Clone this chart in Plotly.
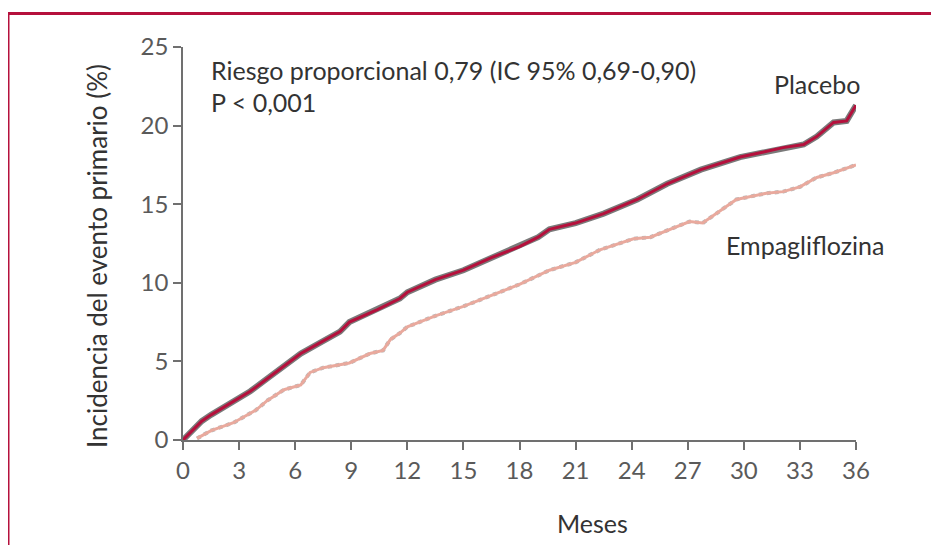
import plotly.graph_objects as go

# Data (cumulative incidence, %)
placebo_x = [0, 0.5, 1.0, 1.5, 2.2, 2.9, 3.6, 4.5, 5.6, 6.3, 7.2, 8.4, 8.9, 10.4, 11.6, 12.0, 13.5, 15.0,
             16.5, 18.0, 19.0, 19.6, 21.0, 22.5, 24.3, 25.9, 27.7, 29.8, 31.0, 32.1, 33.2, 33.9, 34.8, 35.5, 36.0]
placebo_y = [0, 0.6, 1.2, 1.6, 2.1, 2.6, 3.1, 3.9, 4.9, 5.5, 6.1, 6.9, 7.5, 8.3, 9.0, 9.4, 10.2, 10.8,
             11.6, 12.3, 12.9, 13.4, 13.8, 14.4, 15.3, 16.3, 17.2, 18.0, 18.3, 18.6, 18.8, 19.3, 20.2, 20.3, 21.3]

empa_x = [0.75, 1.5, 2.7, 3.9, 4.5, 5.4, 6.3, 6.8, 7.5, 8.9, 10.0, 10.7, 11.1, 11.6, 12.0, 13.5, 15.0,
          16.5, 18.0, 19.6, 21.0, 22.3, 24.1, 25.0, 27.1, 27.8, 29.6, 31.2, 32.1, 33.0, 33.9, 34.8, 35.8, 36.0]
empa_y = [0.1, 0.6, 1.1, 1.9, 2.5, 3.2, 3.5, 4.3, 4.6, 4.9, 5.5, 5.7, 6.4, 6.8, 7.2, 7.9, 8.5,
          9.2, 9.9, 10.8, 11.3, 12.1, 12.8, 12.9, 13.9, 13.8, 15.3, 15.7, 15.8, 16.1, 16.7, 17.0, 17.4, 17.5]

x_ticks = [0, 3, 6, 9, 12, 15, 18, 21, 24, 27, 30, 33, 36]
y_ticks = [0, 5, 10, 15, 20, 25]

RED = "#b5103c"
SALMON = "#e9a99d"
AXIS = "#707070"
TEXT = "#333333"
FONT = "Lato"

fig = go.Figure()
# gray shadows
fig.add_trace(go.Scatter(x=placebo_x, y=placebo_y, mode="lines",
                         line=dict(color="#7a7a7a", width=6), hoverinfo="skip", showlegend=False))
fig.add_trace(go.Scatter(x=empa_x, y=empa_y, mode="lines",
                         line=dict(color="#b8b8b8", width=4, dash="dot"), hoverinfo="skip", showlegend=False))
fig.add_trace(go.Scatter(x=empa_x, y=empa_y, mode="lines", name="Empagliflozina",
                         line=dict(color=SALMON, width=3), showlegend=False))
fig.add_trace(go.Scatter(x=placebo_x, y=placebo_y, mode="lines", name="Placebo",
                         line=dict(color=RED, width=3), showlegend=False))

axis_common = dict(showline=True, linecolor=AXIS, linewidth=1.5, ticks="outside", ticklen=8,
                   tickcolor=AXIS, tickwidth=1.5, showgrid=False, zeroline=False,
                   tickfont=dict(family=FONT, size=24, color="#5a5a5a"))

# the page body adds an 8px offset; margins compensate so the plot area sits at 183..856 x 47..440
fig.update_layout(
    width=939, height=545,
    margin=dict(l=175, r=91, t=39, b=113, autoexpand=False),
    paper_bgcolor="white", plot_bgcolor="white",
    xaxis=dict(range=[0, 36], tickvals=x_ticks, **axis_common),
    yaxis=dict(range=[0, 25], tickvals=y_ticks, **axis_common),
    showlegend=False,
)

anns = [
    dict(text="Riesgo proporcional 0,79 (IC 95% 0,69-0,90)", x=(209 - 183) / 673, y=(440 - 70) / 393,
         xanchor="left", yanchor="middle", font=dict(size=25)),
    dict(text="P < 0,001", x=(209 - 183) / 673, y=(440 - 102) / 393,
         xanchor="left", yanchor="middle", font=dict(size=25)),
    dict(text="Placebo", x=(817 - 183) / 673, y=(440 - 84) / 393,
         xanchor="center", yanchor="middle", font=dict(size=25)),
    dict(text="Empagliflozina", x=(805 - 183) / 673, y=(440 - 245) / 393,
         xanchor="center", yanchor="middle", font=dict(size=25)),
    dict(text="Meses", x=(592 - 183) / 673, y=(440 - 523) / 393,
         xanchor="center", yanchor="middle", font=dict(size=25)),
    dict(text="Incidencia del evento primario (%)", x=(97 - 183) / 673, y=(440 - 256) / 393,
         xanchor="center", yanchor="middle", textangle=-90, font=dict(size=26)),
]
for a in anns:
    a.update(xref="paper", yref="paper", showarrow=False)
    a["font"].update(family=FONT, color=TEXT)
fig.update_layout(annotations=anns)

# red frame (extends beyond right and bottom edges)
fig.add_shape(type="rect", xref="paper", yref="paper",
              x0=(8 - 183) / 673, x1=(960 - 183) / 673,
              y0=(440 - 570) / 393, y1=(440 - 13.5) / 393,
              line=dict(color=RED, width=3), layer="above")

fig.write_html("out.html")
